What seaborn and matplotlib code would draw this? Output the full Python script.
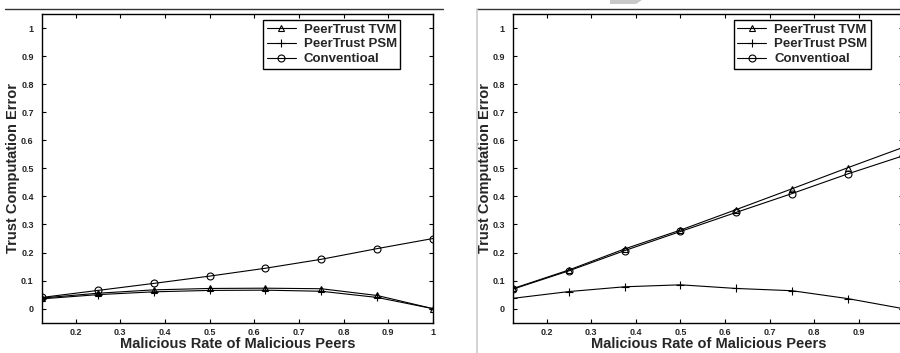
import numpy as np
import pandas as pd
import seaborn as sns
import matplotlib
matplotlib.use('Agg')
import matplotlib.pyplot as plt
from matplotlib.lines import Line2D
from matplotlib.patches import Polygon
from matplotlib.ticker import FuncFormatter

# malicious rate values on the x axis
rate = [0.125, 0.25, 0.375, 0.5, 0.625, 0.75, 0.875, 1.0]

# left panel
left_tvm = [0.038, 0.055, 0.067, 0.072, 0.073, 0.071, 0.047, 0.0]
left_psm = [0.035, 0.050, 0.060, 0.065, 0.066, 0.062, 0.040, 0.0]
left_conv = [0.040, 0.065, 0.090, 0.116, 0.144, 0.176, 0.214, 0.250]

# right panel
right_tvm = [0.072, 0.138, 0.213, 0.280, 0.353, 0.427, 0.502, 0.575]
right_psm = [0.037, 0.061, 0.078, 0.085, 0.072, 0.064, 0.036, 0.0]
right_conv = [0.070, 0.135, 0.207, 0.275, 0.343, 0.410, 0.480, 0.545]

series_names = ['PeerTrust TVM', 'PeerTrust PSM', 'Conventioal']
series_markers = ['^', '+', 'o']

x_ticks = [0.2, 0.3, 0.4, 0.5, 0.6, 0.7, 0.8, 0.9, 1.0]
y_ticks = [0, 0.1, 0.2, 0.3, 0.4, 0.5, 0.6, 0.7, 0.8, 0.9, 1.0]

sns.set_style('ticks')
plt.rcParams['font.family'] = ['Liberation Sans', 'DejaVu Sans']
plt.rcParams['font.weight'] = 'bold'

W, H = 900, 353
fig = plt.figure(figsize=(9, 3.53), dpi=100)
ax1 = fig.add_axes([42 / W, 30.3 / H, 391 / W, 308.7 / H])
ax2 = fig.add_axes([513.3 / W, 30.3 / H, 390 / W, 308.7 / H])


def tick_fmt(v, pos):
    return '%g' % round(v, 2)


def draw_panel(ax, data, legend_right):
    for vals, name, mk in zip(data, series_names, series_markers):
        sns.lineplot(x=rate, y=vals, ax=ax, color='black', lw=0.8,
                     marker=mk, markersize=5 if mk != '+' else 6,
                     markerfacecolor='none', markeredgecolor='black',
                     markeredgewidth=0.8, label=name)
    ax.set_xlim(0.125, 1.0)
    ax.set_ylim(-0.05, 1.05)
    ax.set_xticks(x_ticks)
    ax.set_yticks(y_ticks)
    ax.xaxis.set_major_formatter(FuncFormatter(tick_fmt))
    ax.yaxis.set_major_formatter(FuncFormatter(tick_fmt))
    ax.tick_params(direction='in', length=3, width=0.8, top=True, right=True,
                   labelsize=6.5, color='black')
    ax.tick_params(axis='x', pad=4)
    ax.tick_params(axis='y', pad=6)
    for lab in ax.get_xticklabels() + ax.get_yticklabels():
        lab.set_fontweight('bold')
    for sp in ax.spines.values():
        sp.set_visible(True)
        sp.set_linewidth(1.0)
        sp.set_color('black')
    ax.set_xlabel('Malicious Rate of Malicious Peers', fontsize=10.5,
                  fontweight='bold', labelpad=0)
    ax.set_ylabel('Trust Computation Error', fontsize=10.5,
                  fontweight='bold', labelpad=0.5)
    leg = ax.legend(loc='upper right', bbox_to_anchor=(legend_right / W, (H - 20) / H),
                    bbox_transform=fig.transFigure, borderaxespad=0,
                    frameon=True, fancybox=False, edgecolor='black',
                    fontsize=9.5, labelspacing=0.2, handlelength=2.2,
                    handletextpad=0.6, borderpad=0.25, framealpha=1)
    leg.get_frame().set_linewidth(1.0)
    for t in leg.get_texts():
        t.set_fontweight('bold')


draw_panel(ax1, [left_tvm, left_psm, left_conv], 400)
draw_panel(ax2, [right_tvm, right_psm, right_conv], 870.7)

# the right panel is cropped at its right edge: its last x label is not shown
ax2.set_xticklabels([tick_fmt(v, 0) for v in x_ticks[:-1]] + [''])

# scan edges around the two panels
fig.add_artist(Line2D([5 / W, 443 / W], [(H - 9) / H, (H - 9) / H],
                      transform=fig.transFigure, color='#333333', lw=1.0))
fig.add_artist(Line2D([477 / W, 1.0], [(H - 9) / H, (H - 9) / H],
                      transform=fig.transFigure, color='#333333', lw=1.0))
fig.add_artist(Line2D([477 / W, 477 / W], [0, (H - 9) / H],
                      transform=fig.transFigure, color='#cccccc', lw=1.2))
fig.add_artist(Polygon([[610 / W, 1.0], [642 / W, 1.0], [636 / W, (H - 4) / H],
                        [610 / W, (H - 4) / H]], closed=True,
                       transform=fig.transFigure, color='#c8c8c8', lw=0))

fig.savefig('out.png', dpi=100)
